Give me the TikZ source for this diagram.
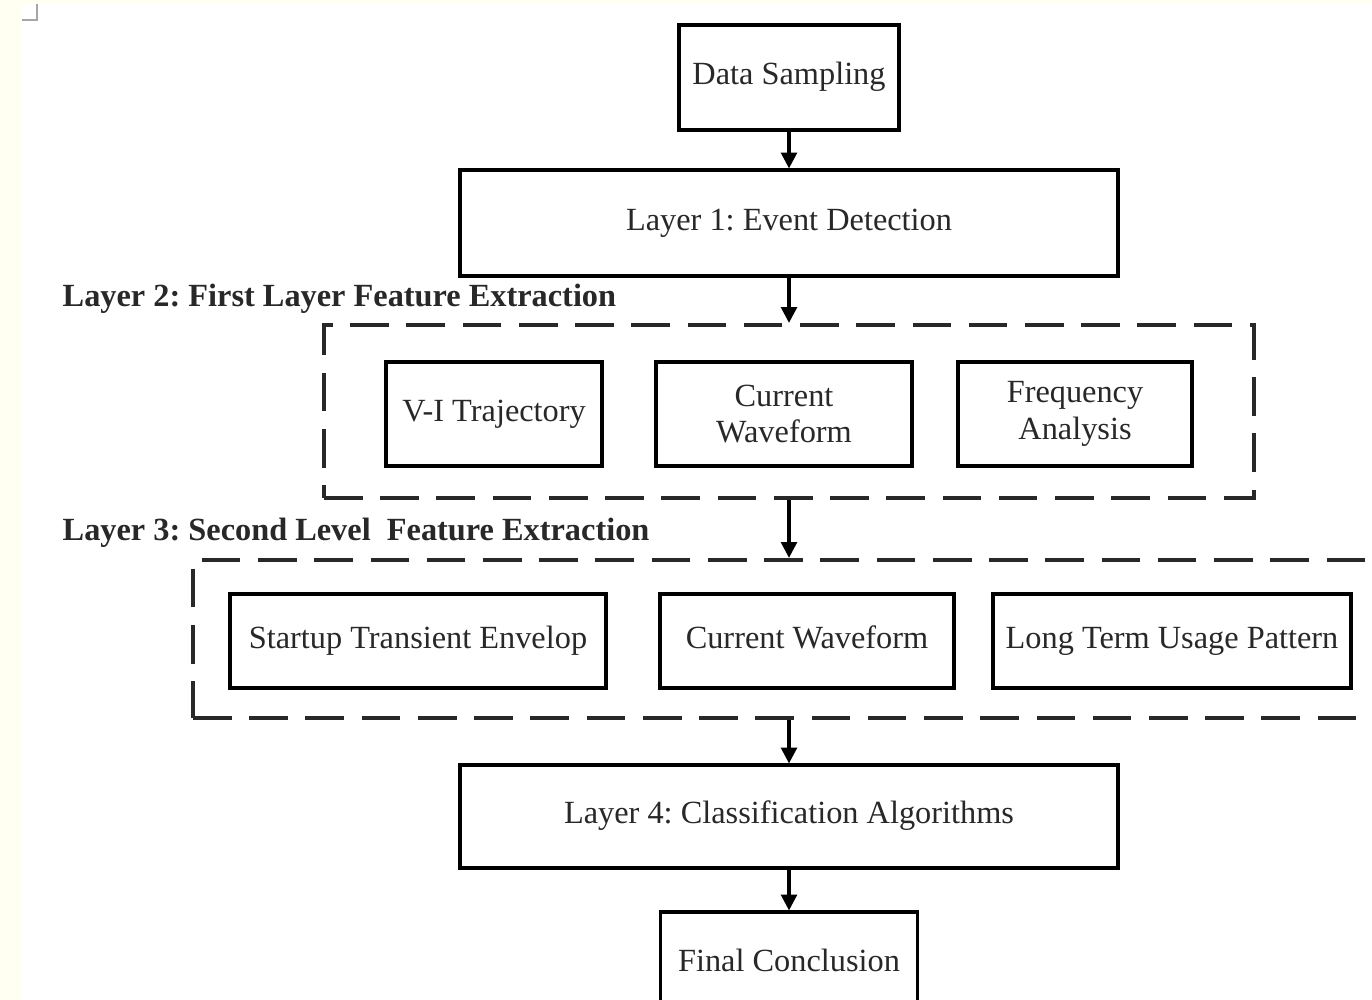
\documentclass[tikz,border=0pt]{standalone}
\usepackage{fontspec}
\setmainfont{Liberation Serif}
\frenchspacing
\usetikzlibrary{arrows.meta}
\definecolor{paper}{RGB}{255,255,242}
\definecolor{ink}{RGB}{40,40,40}
\tikzset{block/.style={draw=black,line width=0.9pt,fill=white,text=ink,align=center,inner sep=0pt,font=\fontsize{9.2}{10.5}\selectfont}}
\tikzset{single/.style={block,text height=6.6pt,text depth=2.4pt}}
\tikzset{group/.style={draw=ink,line width=1.2pt,dash pattern=on 11pt off 5pt,inner sep=0pt}}
\tikzset{title/.style={anchor=west,inner sep=0pt,text=ink,font=\fontsize{9.2}{11}\selectfont\bfseries}}
\tikzset{flow/.style={-{Triangle[width=4.5pt,length=4.5pt]},line width=0.9pt}}

\begin{document}
\begin{tikzpicture}
    \clip (0,0) rectangle (13.72,-10);
    \fill [paper] (0,0) rectangle (13.72,-10);
    \fill [white] (0.22,-0.04) rectangle (13.72,-10);
    \draw [gray!70,line width=0.8pt] (0.22,-0.2) -- (0.37,-0.2) -- (0.37,-0.04);
    % top of the chain
    \node [single,minimum width=2.2cm,minimum height=1.05cm] (sampling) at (7.89,-0.775) {Data Sampling};
    \node [single,minimum width=6.58cm,minimum height=1.06cm] (layer1) at (7.89,-2.23) {Layer 1: Event Detection};
    % layer 2
    \node [group,minimum width=9.3cm,minimum height=1.73cm] (group1) at (7.89,-4.115) {};
    \node [title] (title2) at (0.62,-2.99) {Layer 2: First Layer Feature Extraction};
    \node [single,minimum width=2.16cm,minimum height=1.04cm] (trajectory) at (4.94,-4.14) {V-I Trajectory};
    \node [block,minimum width=2.56cm,minimum height=1.04cm] (waveform) at (7.84,-4.14) {Current\\Waveform};
    \node [block,minimum width=2.34cm,minimum height=1.04cm] (frequency) at (10.75,-4.14) {Frequency\\Analysis};
    % layer 3
    \node [group,minimum width=12.1cm,minimum height=1.58cm] (group2) at (7.98,-6.39) {};
    \node [title] (title3) at (0.62,-5.33) {Layer 3: Second Level\ \ Feature Extraction};
    \node [single,minimum width=3.76cm,minimum height=0.94cm] (envelope) at (4.18,-6.41) {Startup Transient Envelop};
    \node [single,minimum width=2.94cm,minimum height=0.94cm] (waveform2) at (8.07,-6.41) {Current Waveform};
    \node [single,minimum width=3.58cm,minimum height=0.94cm] (usage) at (11.72,-6.41) {Long Term Usage Pattern};
    % bottom of the chain
    \node [single,minimum width=6.58cm,minimum height=1.03cm] (layer4) at (7.89,-8.165) {Layer 4: Classification Algorithms};
    \node [single,minimum width=2.57cm,minimum height=1.04cm] (conclusion) at (7.89,-9.64) {Final Conclusion};
    \draw [flow] (sampling) -- (layer1);
    \draw [flow] (layer1) -- (group1);
    \draw [flow] (group1.south) -- (group1.south |- group2.north);
    \draw [flow] (layer4.north |- group2.south) -- (layer4.north);
    \draw [flow] (layer4) -- (conclusion);
\end{tikzpicture}
\end{document}
